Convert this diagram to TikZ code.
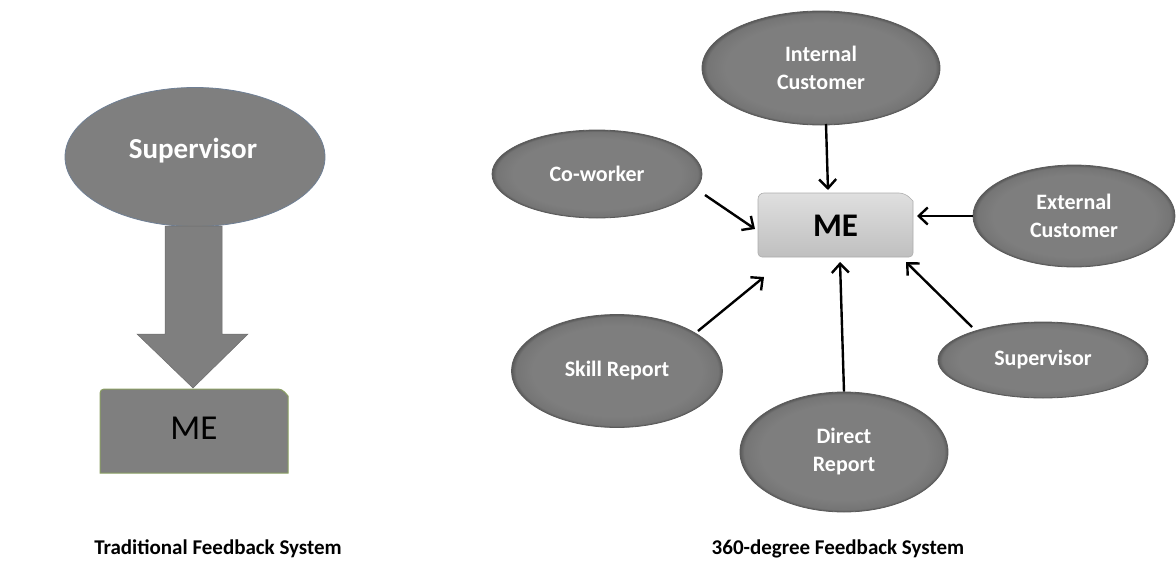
\documentclass[tikz,border=0pt]{standalone}
\usepackage{fontspec}
\setmainfont{Carlito}
\usetikzlibrary{shapes.geometric,arrows.meta}
\definecolor{ellin}{HTML}{7E7E7E}
\definecolor{ellout}{HTML}{5A5A5A}
\definecolor{leftfill}{HTML}{7F7F7F}
\definecolor{leftedge}{HTML}{6F7F95}
\definecolor{meedge}{HTML}{8A9F62}
\pgfdeclareradialshading{ellshade}{\pgfpoint{0bp}{0bp}}{color(0bp)=(ellin); color(20bp)=(ellin); color(24bp)=(ellin!75!ellout); color(25bp)=(ellout); color(50bp)=(ellout)}
\begin{document}
\begin{tikzpicture}[x=1pt,y=-1pt,
  ell/.style={ellipse, draw=ellout, line width=0.8pt, shading=ellshade,
    text=white, font=\bfseries\fontsize{22}{28}\selectfont, align=center, inner sep=0pt},
  fb/.style={-{Straight Barb[length=9pt,width=17pt,line width=2.4pt]}, line width=2.4pt, black},
  caption/.style={font=\bfseries\fontsize{21}{24}\selectfont, text=black, inner sep=0pt}]
\useasboundingbox (0,0) rectangle (1176,568);
% ---------- Traditional ----------
\node[ellipse, draw=leftedge, line width=0.8pt, fill=leftfill, minimum width=260pt, minimum height=139pt,
  inner sep=0pt] (tsup) at (195,157) {};
\node[text=white, font=\bfseries\fontsize{29}{32}\selectfont] (tsuptxt) at (193,151) {Supervisor};
\draw[fill=leftfill, draw=leftfill!85!black, line width=0.5pt]
  (165,226) -- (222,226) -- (222,334) -- (248,334) -- (193,388) -- (137,334) -- (165,334) -- cycle;
\draw[fill=leftfill, draw=meedge, line width=1pt, rounded corners=4pt]
  (100,473) -- (100,389) -- (282,389) [sharp corners] -- (288,396) -- (288,473) -- cycle;
\node[font=\fontsize{35}{40}\selectfont, text=black] (tme) at (194,428) {ME};
\node[caption] (tcap) at (218,549) {Traditional Feedback System};
% ---------- 360 degree ----------
\draw[top color=gray!25, bottom color=gray!50, draw=gray!65, line width=0.6pt, rounded corners=6pt]
  (758,257) -- (758,193) -- (905,193) [sharp corners] -- (913,201) [rounded corners=4pt] -- (913,257) -- cycle;
\node[font=\bfseries\fontsize{33}{36}\selectfont, text=black, minimum width=155pt, minimum height=64pt] (me) at (835.5,226) {ME};
\node[ell, minimum width=238pt, minimum height=114pt] (ic) at (821,68) {Internal\\Customer};
\node[ell, minimum width=210pt, minimum height=88pt] (cw) at (597,174) {Co-worker};
\node[ell, minimum width=202pt, minimum height=102pt] (ec) at (1074,216) {External\\Customer};
\node[ell, minimum width=211pt, minimum height=113pt] (sr) at (617,371) {Skill Report};
\node[ell, minimum width=210pt, minimum height=76pt] (sv) at (1043,360) {Supervisor};
\node[ell, minimum width=208pt, minimum height=120pt] (dr) at (844,452) {Direct\\Report};
\coordinate (a1) at (826,124); \coordinate (b1) at (828,190);
\coordinate (a2) at (705,195); \coordinate (b2) at (755,229);
\coordinate (b3) at (917,216);
\coordinate (a4) at (698,331); \coordinate (b4) at (764,277);
\coordinate (b5) at (840,262);
\coordinate (a6) at (972,327); \coordinate (b6) at (906,262);
\draw[fb] (a1) -- (b1);
\draw[fb] (a2) -- (b2);
\draw[fb] (ec.west) -- (b3);
\draw[fb] (a4) -- (b4);
\draw[fb] (dr.north) -- (b5);
\draw[fb] (a6) -- (b6);
\node[caption] (rcap) at (838,549) {360-degree Feedback System};
\end{tikzpicture}
\end{document}
